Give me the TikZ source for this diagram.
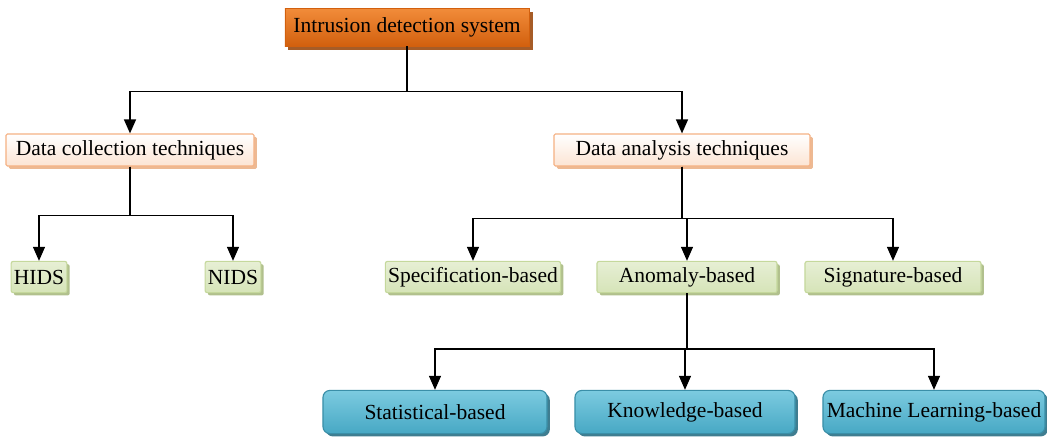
\documentclass[tikz,border=0pt]{standalone}
\usepackage{fontspec}
\setmainfont{Liberation Serif}
\usetikzlibrary{positioning,calc,arrows.meta,shadows}

\definecolor{idsTop}{HTML}{F28C3A}
\definecolor{idsBot}{HTML}{D2600E}
\definecolor{idsShade}{HTML}{9C4A10}
\definecolor{peachLine}{HTML}{F5B183}
\definecolor{peachFill}{HTML}{FCE4D3}
\definecolor{peachShade}{HTML}{E8A878}
\definecolor{greenLine}{HTML}{C5D89C}
\definecolor{greenFill}{HTML}{D6E4B8}
\definecolor{greenShade}{HTML}{9DB070}
\definecolor{blueLine}{HTML}{3A8FA8}
\definecolor{blueTop}{HTML}{7CCBE0}
\definecolor{blueBot}{HTML}{47A8C4}
\definecolor{blueShade}{HTML}{2A6F84}

\begin{document}
\begin{tikzpicture}[
    x=0.025cm, y=-0.025cm, % one unit = one pixel of the layout
    font=\fontsize{15.3}{17}\selectfont,
    mainbox/.style={draw=idsBot, top color=idsTop, bottom color=idsBot,
        minimum width=6.1cm, minimum height=0.95cm, inner sep=2pt,
        drop shadow={shadow xshift=2.5pt, shadow yshift=-2.5pt, fill=idsShade, opacity=0.9}}, % Корень
    catbox/.style={draw=peachLine, line width=0.8pt, top color=white, bottom color=peachFill,
        minimum height=0.8cm, inner sep=2pt, rounded corners=1pt,
        drop shadow={shadow xshift=2pt, shadow yshift=-2pt, fill=peachShade, opacity=0.8}}, % Категории
    leafbox/.style={draw=greenLine, line width=0.8pt, top color=greenFill!60, bottom color=greenFill,
        minimum height=0.78cm, inner sep=2pt, rounded corners=1.5pt,
        drop shadow={shadow xshift=2pt, shadow yshift=-2pt, fill=greenShade, opacity=0.8}}, % Методы
    subbox/.style={draw=blueLine, line width=0.8pt, top color=blueTop, bottom color=blueBot,
        minimum height=1.08cm, inner sep=2pt, rounded corners=5pt,
        drop shadow={shadow xshift=2pt, shadow yshift=-2pt, fill=blueShade, opacity=0.9}}, % Подвиды
    arrow/.style={-{Triangle[width=8.5pt,length=10pt]}, line width=1.1pt}
    ]

    \useasboundingbox (0,0) rectangle (1047,437);

    % Корень
    \node[mainbox] (IDS) at (407,27) {Intrusion detection system};

    % Уровень 1
    \node[catbox, minimum width=6.2cm] (DC) at (130,150) {Data collection techniques};
    \node[catbox, minimum width=6.4cm] (DA) at (682,150) {Data analysis techniques};

    % Уровень 2
    \node[leafbox, minimum width=1.35cm] (HIDS) at (39,277) {HIDS};
    \node[leafbox, minimum width=1.35cm] (NIDS) at (233,277) {NIDS};
    \node[leafbox, minimum width=4.3cm] (Spec) at (473,277) {Specification-based};
    \node[leafbox, minimum width=4.5cm] (Anom) at (687,277) {Anomaly-based};
    \node[leafbox, minimum width=4.4cm] (Sig) at (893,277) {Signature-based};

    % Уровень 3
    \node[subbox, minimum width=5.6cm] (Stat) at (435,412) {Statistical-based};
    \node[subbox, minimum width=5.5cm] (Know) at (685,412) {Knowledge-based};
    \node[subbox, minimum width=5.55cm] (ML) at (934,412) {Machine Learning-based};

    % Связи
    \draw[arrow] (IDS.south) -- ++(0,45) -| (DC.north);
    \draw[arrow] (IDS.south) -- ++(0,45) -| (DA.north);

    \draw[arrow] (DC.south) -- ++(0,49) -| (HIDS.north);
    \draw[arrow] (DC.south) -- ++(0,49) -| (NIDS.north);

    \foreach \n in {Spec,Anom,Sig}
        \draw[arrow] (DA.south) -- ++(0,52) -| (\n.north);

    \foreach \n in {Stat,Know,ML}
        \draw[arrow] (Anom.south) -- ++(0,56) -| (\n.north);

\end{tikzpicture}
\end{document}
